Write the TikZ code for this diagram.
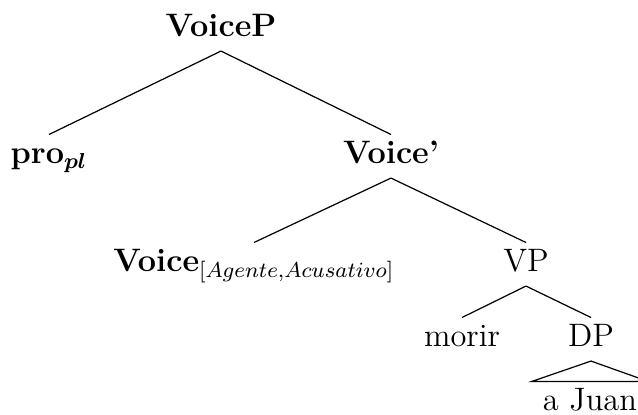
\documentclass[12pt,tikz,border=0pt]{standalone}
\usepackage{amsmath}
\tikzset{
  lab/.style = {anchor=base, text height=8.4pt, text depth=2.7pt, inner ysep=2.3pt},
  br/.style  = {line width=0.45pt, draw=black},
}
\begin{document}
\begin{tikzpicture}[x=0.3697pt, y=-0.3697pt]
\useasboundingbox (0,0) rectangle (638,415);
\node[lab] (voicep) at (221,37)  {\textbf{VoiceP}};
\node[lab] (pro)    at (49,164)  {\textbf{pro}$_{\boldsymbol{pl}}$};
\node[lab] (vbar)   at (391,164) {\textbf{Voice\textquoteright}};
\node[lab] (voice)  at (254,272) {\textbf{Voice}$_{[Agente,Acusativo]}$};
\node[lab] (vp)     at (526,272) {VP};
\node[lab] (morir)  at (462,347) {morir};
\node[lab] (dp)     at (591,347) {DP};
\node[lab] (juan)   at (590,411) {a Juan};
\draw[br](voicep.south)--(pro.north); \draw[br](voicep.south)--(vbar.north);
\draw[br](vbar.south)--(voice.north); \draw[br](vbar.south)--(vp.north);
\draw[br](vp.south)--(morir.north); \draw[br](vp.south)--(dp.north);
\draw[br](dp.south)--(juan.north west)--(juan.north east)--cycle;
\end{tikzpicture}
\end{document}
